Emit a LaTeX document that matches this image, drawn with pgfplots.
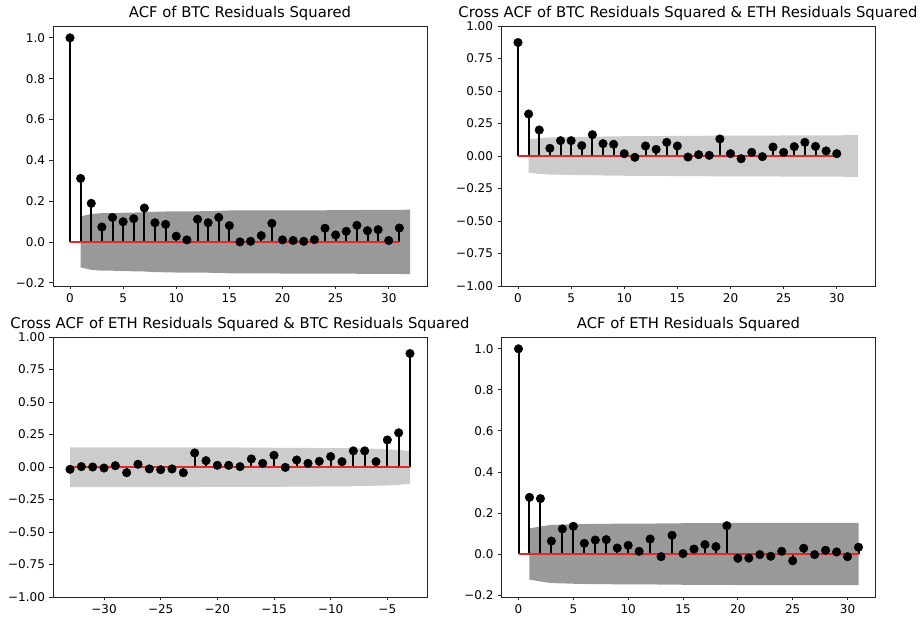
\documentclass[border=0pt]{standalone}
\usepackage{fontspec}
\setmainfont{DejaVu Sans}
\usepackage{pgfplots}
\pgfplotsset{compat=1.18}
\definecolor{bandD}{RGB}{153,153,153}
\definecolor{bandL}{RGB}{204,204,204}
\definecolor{baseR}{RGB}{225,40,40}
\pgfplotsset{
  acfax/.style={
    scale only axis, width=374pt, height=260pt,
    /pgf/number format/assume math mode=true,
    axis line style={black!85, line width=0.8pt},
    tick align=outside, major tick length=3.5pt,
    tick style={black!85, line width=0.8pt},
    xtick pos=bottom, ytick pos=left,
    ticklabel style={font=\fontsize{12}{14}\selectfont},
    yticklabel style={xshift=-1pt},
    xticklabel style={yshift=-1pt},
    title style={font=\fontsize{14.8}{17}\selectfont, at={(0.5,1)}, anchor=south, yshift=-4pt},
    clip=false,
  },
  stem/.style={ycomb, black, line width=2pt, no marks},
  dots/.style={only marks, mark=*, mark size=4.3pt, black},
  base/.style={baseR, line width=1.9pt, no marks},
}
\begin{document}
\begin{tikzpicture}
\useasboundingbox (0pt,0pt) rectangle (923pt,623pt);

% ---------- Top-left: ACF of BTC ----------
\begin{axis}[acfax, at={(53pt,337pt)}, anchor=south west,
  title={ACF of BTC Residuals Squared},
  xmin=-1.6, xmax=33.6, ymin=-0.216, ymax=1.058,
  xtick={0,5,10,15,20,25,30},
  ytick={-0.2,0,0.2,0.4,0.6,0.8,1.0},
  yticklabels={−0.2,0.0,0.2,0.4,0.6,0.8,1.0}]
\addplot[fill=bandD, draw=none] coordinates {
(1,0.125)(2,0.137)(3,0.141)(4,0.141)(5,0.143)(6,0.144)(7,0.145)(8,0.148)(9,0.149)(10,0.150)(11,0.150)(12,0.150)(13,0.151)(14,0.152)(15,0.154)(16,0.154)(17,0.154)(18,0.154)(19,0.154)(20,0.155)(21,0.155)(22,0.155)(23,0.155)(24,0.155)(25,0.156)(26,0.156)(27,0.156)(28,0.157)(29,0.157)(30,0.157)(31,0.157)(32,0.158)
(32,-0.158)(31,-0.157)(30,-0.157)(29,-0.157)(28,-0.157)(27,-0.156)(26,-0.156)(25,-0.156)(24,-0.155)(23,-0.155)(22,-0.155)(21,-0.155)(20,-0.155)(19,-0.154)(18,-0.154)(17,-0.154)(16,-0.154)(15,-0.154)(14,-0.152)(13,-0.151)(12,-0.150)(11,-0.150)(10,-0.150)(9,-0.149)(8,-0.148)(7,-0.145)(6,-0.144)(5,-0.143)(4,-0.141)(3,-0.141)(2,-0.137)(1,-0.125)};
\addplot[stem] coordinates {(0,1.0)(1,0.311)(2,0.189)(3,0.073)(4,0.120)(5,0.099)(6,0.114)(7,0.166)(8,0.094)(9,0.086)(10,0.028)(11,0.010)(12,0.111)(13,0.094)(14,0.120)(15,0.080)(16,0.000)(17,0.003)(18,0.031)(19,0.091)(20,0.010)(21,0.007)(22,0.003)(23,0.011)(24,0.067)(25,0.034)(26,0.052)(27,0.081)(28,0.055)(29,0.060)(30,0.007)(31,0.068)};
\addplot[base] coordinates {(0,0)(31,0)};
\addplot[dots] coordinates {(0,1.0)(1,0.311)(2,0.189)(3,0.073)(4,0.120)(5,0.099)(6,0.114)(7,0.166)(8,0.094)(9,0.086)(10,0.028)(11,0.010)(12,0.111)(13,0.094)(14,0.120)(15,0.080)(16,0.000)(17,0.003)(18,0.031)(19,0.091)(20,0.010)(21,0.007)(22,0.003)(23,0.011)(24,0.067)(25,0.034)(26,0.052)(27,0.081)(28,0.055)(29,0.060)(30,0.007)(31,0.068)};
\end{axis}

% ---------- Top-right: Cross ACF BTC & ETH ----------
\begin{axis}[acfax, at={(501pt,337pt)}, anchor=south west,
  title={Cross ACF of BTC Residuals Squared \& ETH Residuals Squared},
  xmin=-1.6, xmax=33.6, ymin=-1, ymax=1,
  xtick={0,5,10,15,20,25,30},
  ytick={-1,-0.75,-0.5,-0.25,0,0.25,0.5,0.75,1},
  yticklabels={−1.00,−0.75,−0.50,−0.25,0.00,0.25,0.50,0.75,1.00}]
\addplot[fill=bandL, draw=none] coordinates {
(1,0.127)(2,0.138)(3,0.143)(4,0.144)(5,0.146)(6,0.147)(7,0.148)(8,0.150)(9,0.151)(10,0.152)(11,0.152)(12,0.152)(13,0.153)(14,0.154)(15,0.155)(16,0.155)(17,0.155)(18,0.156)(19,0.156)(20,0.157)(21,0.157)(22,0.157)(23,0.157)(24,0.157)(25,0.158)(26,0.158)(27,0.158)(28,0.159)(29,0.159)(30,0.159)(31,0.160)(32,0.160)
(32,-0.160)(31,-0.160)(30,-0.159)(29,-0.159)(28,-0.159)(27,-0.158)(26,-0.158)(25,-0.158)(24,-0.157)(23,-0.157)(22,-0.157)(21,-0.157)(20,-0.157)(19,-0.156)(18,-0.156)(17,-0.155)(16,-0.155)(15,-0.155)(14,-0.154)(13,-0.153)(12,-0.152)(11,-0.152)(10,-0.152)(9,-0.151)(8,-0.150)(7,-0.148)(6,-0.147)(5,-0.146)(4,-0.144)(3,-0.143)(2,-0.138)(1,-0.127)};
\addplot[stem] coordinates {(0,0.873)(1,0.323)(2,0.200)(3,0.059)(4,0.118)(5,0.118)(6,0.080)(7,0.164)(8,0.095)(9,0.090)(10,0.018)(11,-0.010)(12,0.077)(13,0.051)(14,0.105)(15,0.077)(16,-0.008)(17,0.010)(18,0.005)(19,0.131)(20,0.018)(21,-0.021)(22,0.028)(23,-0.005)(24,0.069)(25,0.028)(26,0.072)(27,0.105)(28,0.074)(29,0.039)(30,0.018)};
\addplot[base] coordinates {(0,0)(30,0)};
\addplot[dots] coordinates {(0,0.873)(1,0.323)(2,0.200)(3,0.059)(4,0.118)(5,0.118)(6,0.080)(7,0.164)(8,0.095)(9,0.090)(10,0.018)(11,-0.010)(12,0.077)(13,0.051)(14,0.105)(15,0.077)(16,-0.008)(17,0.010)(18,0.005)(19,0.131)(20,0.018)(21,-0.021)(22,0.028)(23,-0.005)(24,0.069)(25,0.028)(26,0.072)(27,0.105)(28,0.074)(29,0.039)(30,0.018)};
\end{axis}

% ---------- Bottom-left: Cross ACF ETH & BTC ----------
\begin{axis}[acfax, at={(53pt,26pt)}, anchor=south west,
  title={Cross ACF of ETH Residuals Squared \& BTC Residuals Squared},
  xmin=-34.5, xmax=-1.5, ymin=-1, ymax=1,
  xtick={-30,-25,-20,-15,-10,-5},
  xticklabels={−30,−25,−20,−15,−10,−5},
  ytick={-1,-0.75,-0.5,-0.25,0,0.25,0.5,0.75,1},
  yticklabels={−1.00,−0.75,−0.50,−0.25,0.00,0.25,0.50,0.75,1.00}]
\addplot[fill=bandL, draw=none] coordinates {
(-33,0.151)(-32,0.151)(-31,0.151)(-30,0.151)(-29,0.151)(-28,0.151)(-27,0.151)(-26,0.151)(-25,0.151)(-24,0.151)(-23,0.151)(-22,0.151)(-21,0.150)(-20,0.150)(-19,0.150)(-18,0.150)(-17,0.149)(-16,0.149)(-15,0.148)(-14,0.148)(-13,0.147)(-12,0.147)(-11,0.146)(-10,0.146)(-9,0.145)(-8,0.144)(-7,0.142)(-6,0.140)(-5,0.137)(-4,0.131)(-3,0.122)
(-3,-0.129)(-4,-0.137)(-5,-0.142)(-6,-0.144)(-7,-0.146)(-8,-0.148)(-9,-0.149)(-10,-0.150)(-11,-0.150)(-12,-0.151)(-13,-0.151)(-14,-0.152)(-15,-0.152)(-16,-0.152)(-17,-0.153)(-18,-0.153)(-19,-0.153)(-20,-0.153)(-21,-0.153)(-22,-0.154)(-23,-0.154)(-24,-0.154)(-25,-0.154)(-26,-0.154)(-27,-0.154)(-28,-0.154)(-29,-0.154)(-30,-0.154)(-31,-0.154)(-32,-0.154)(-33,-0.154)};
\addplot[stem] coordinates {(-33,-0.018)(-32,0.003)(-31,0.000)(-30,-0.008)(-29,0.010)(-28,-0.044)(-27,0.021)(-26,-0.015)(-25,-0.021)(-24,-0.015)(-23,-0.044)(-22,0.108)(-21,0.049)(-20,0.013)(-19,0.013)(-18,0.003)(-17,0.062)(-16,0.028)(-15,0.090)(-14,-0.003)(-13,0.054)(-12,0.028)(-11,0.044)(-10,0.080)(-9,0.041)(-8,0.124)(-7,0.124)(-6,0.041)(-5,0.208)(-4,0.263)(-3,0.873)};
\addplot[base] coordinates {(-33,0)(-3,0)};
\addplot[dots] coordinates {(-33,-0.018)(-32,0.003)(-31,0.000)(-30,-0.008)(-29,0.010)(-28,-0.044)(-27,0.021)(-26,-0.015)(-25,-0.021)(-24,-0.015)(-23,-0.044)(-22,0.108)(-21,0.049)(-20,0.013)(-19,0.013)(-18,0.003)(-17,0.062)(-16,0.028)(-15,0.090)(-14,-0.003)(-13,0.054)(-12,0.028)(-11,0.044)(-10,0.080)(-9,0.041)(-8,0.124)(-7,0.124)(-6,0.041)(-5,0.208)(-4,0.263)(-3,0.873)};
\end{axis}

% ---------- Bottom-right: ACF of ETH ----------
\begin{axis}[acfax, at={(501.5pt,26pt)}, anchor=south west,
  title={ACF of ETH Residuals Squared},
  xmin=-1.55, xmax=32.55, ymin=-0.2096, ymax=1.0576,
  xtick={0,5,10,15,20,25,30},
  ytick={-0.2,0,0.2,0.4,0.6,0.8,1.0},
  yticklabels={−0.2,0.0,0.2,0.4,0.6,0.8,1.0}]
\addplot[fill=bandD, draw=none] coordinates {
(1,0.125)(2,0.134)(3,0.142)(4,0.143)(5,0.145)(6,0.146)(7,0.147)(8,0.147)(9,0.148)(10,0.148)(11,0.148)(12,0.148)(13,0.149)(14,0.149)(15,0.150)(16,0.150)(17,0.150)(18,0.150)(19,0.150)(20,0.152)(21,0.152)(22,0.152)(23,0.152)(24,0.152)(25,0.152)(26,0.152)(27,0.152)(28,0.152)(29,0.152)(30,0.152)(31,0.152)
(31,-0.152)(30,-0.152)(29,-0.152)(28,-0.152)(27,-0.152)(26,-0.152)(25,-0.152)(24,-0.152)(23,-0.152)(22,-0.152)(21,-0.152)(20,-0.152)(19,-0.150)(18,-0.150)(17,-0.150)(16,-0.150)(15,-0.150)(14,-0.149)(13,-0.149)(12,-0.148)(11,-0.148)(10,-0.148)(9,-0.148)(8,-0.147)(7,-0.147)(6,-0.146)(5,-0.145)(4,-0.143)(3,-0.142)(2,-0.134)(1,-0.125)};
\addplot[stem] coordinates {(0,1.0)(1,0.276)(2,0.270)(3,0.063)(4,0.122)(5,0.135)(6,0.052)(7,0.068)(8,0.070)(9,0.029)(10,0.042)(11,0.013)(12,0.073)(13,-0.013)(14,0.091)(15,0.002)(16,0.024)(17,0.046)(18,0.036)(19,0.138)(20,-0.021)(21,-0.020)(22,-0.003)(23,-0.011)(24,0.013)(25,-0.033)(26,0.028)(27,-0.003)(28,0.018)(29,0.010)(30,-0.013)(31,0.033)};
\addplot[base] coordinates {(0,0)(31,0)};
\addplot[dots] coordinates {(0,1.0)(1,0.276)(2,0.270)(3,0.063)(4,0.122)(5,0.135)(6,0.052)(7,0.068)(8,0.070)(9,0.029)(10,0.042)(11,0.013)(12,0.073)(13,-0.013)(14,0.091)(15,0.002)(16,0.024)(17,0.046)(18,0.036)(19,0.138)(20,-0.021)(21,-0.020)(22,-0.003)(23,-0.011)(24,0.013)(25,-0.033)(26,0.028)(27,-0.003)(28,0.018)(29,0.010)(30,-0.013)(31,0.033)};
\end{axis}
\end{tikzpicture}
\end{document}
